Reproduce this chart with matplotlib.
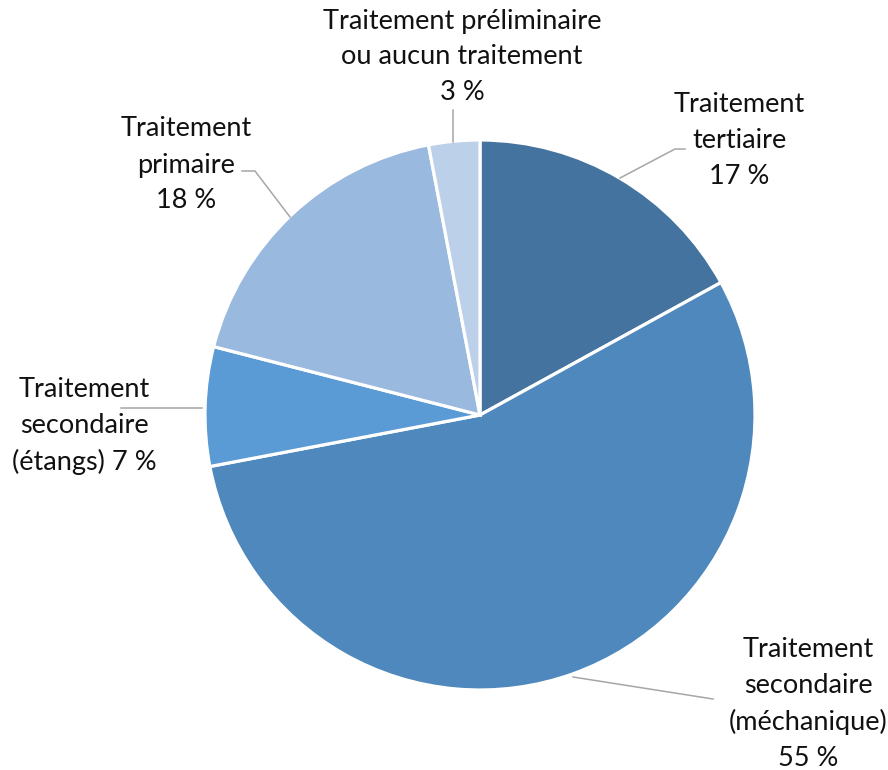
import matplotlib
matplotlib.use("Agg")
import matplotlib.pyplot as plt

plt.rcParams['font.family'] = ['Lato', 'DejaVu Sans']

labels = ["Traitement\ntertiaire\n17 %",
          "Traitement\nsecondaire\n(méchanique)\n55 %",
          "Traitement\nsecondaire\n(étangs) 7 %",
          "Traitement\nprimaire\n18 %",
          "Traitement préliminaire\nou aucun traitement\n3 %"]
shares = [17, 55, 7, 18, 3]
colors = ["#44739F", "#4F88BC", "#5B9BD5", "#9AB9DF", "#BDD0EA"]

# label centres and leader lines (pixel coords, y from top)
label_pos = [(739, 140), (808, 704), (84, 426), (186, 165), (462, 57)]
leaders = [[(620, 178), (675, 149), (685, 149)],
           [(573, 677), (713, 699)],
           [(202, 408), (121, 408)],
           [(290, 217), (255, 171), (242, 171)],
           [(453, 142), (453, 110)]]

W, H = 888, 770
fig = plt.figure(figsize=(W / 100, H / 100), dpi=100)
ax = fig.add_axes([0, 0, 1, 1])

ax.pie(shares, colors=colors, startangle=90, counterclock=False,
       center=(480, H - 415), radius=275, frame=True,
       wedgeprops=dict(edgecolor='white', linewidth=2.3))
ax.set_xlim(0, W)
ax.set_ylim(0, H)
ax.axis('off')

for pts in leaders:
    ax.plot([p[0] for p in pts], [H - p[1] for p in pts], color="#A6A6A6", lw=1.1)

for lab, (x, y) in zip(labels, label_pos):
    ax.text(x, H - y, lab, ha='center', va='center', fontsize=19.5,
            color='#111111', linespacing=1.55)

fig.savefig("out.png", dpi=100)
